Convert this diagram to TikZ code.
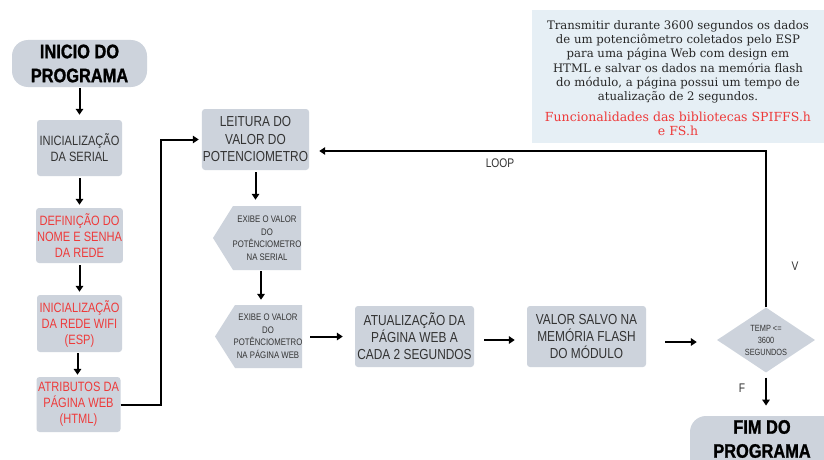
\documentclass[tikz,border=0pt]{standalone}
\usepackage{fontspec}
\setmainfont{Liberation Sans}
\newfontfamily\cond[FakeStretch=0.82]{Liberation Sans}
\newfontfamily\heavy[FakeStretch=0.84,FakeBold=1.2]{Liberation Sans Bold}
\newfontfamily\slab{DejaVu Serif}
\usetikzlibrary{arrows.meta,shapes.geometric}
\definecolor{boxfill}{HTML}{CDD3DC}
\definecolor{txtgray}{HTML}{333333}
\definecolor{redt}{HTML}{EE3A3A}
\definecolor{panel}{HTML}{E6EFF5}
\tikzset{
  procbox/.style={fill=boxfill, rounded corners=3pt, align=center, inner sep=1pt,
    font=\cond\fontsize{13.5}{16}\selectfont, text=txtgray},
  redbox/.style={procbox, text=redt},
  termbox/.style={fill=boxfill, rounded corners=16pt, align=center,
    font=\heavy\fontsize{19.5}{24}\selectfont, text=black},
  arr/.style={draw=black, line width=2pt, -{Triangle[length=6pt,width=7.5pt]}},
  plainline/.style={draw=black, line width=2pt},
  lbl/.style={font=\cond\fontsize{12.5}{14}\selectfont, text=txtgray},
  smalltxt/.style={align=center, font=\cond\fontsize{9.5}{12.5}\selectfont, text=txtgray, inner sep=0pt}
}
\begin{document}
\begin{tikzpicture}[x=1pt,y=-1pt]
\useasboundingbox (0,0) rectangle (824,460);
\clip (0,0) rectangle (824,460);
\fill[white] (0,0) rectangle (824,460);

% description panel
\fill[panel] (532,10) rectangle (824,143);
\node[align=center, font=\slab\fontsize{11.7}{14.3}\selectfont, text=black!85] (desc) at (678,62)
 {Transmitir durante 3600 segundos os dados\\de um potenciômetro coletados pelo ESP\\para uma página Web com design em\\HTML e salvar os dados na memória flash\\do módulo, a página possui um tempo de\\atualização de 2 segundos.};
\node[align=center, font=\slab\fontsize{12.5}{14}\selectfont, text=redt] (libs) at (678,124)
 {Funcionalidades das bibliotecas SPIFFS.h\\e FS.h};

% left column
\node[termbox, minimum width=135pt, minimum height=47pt] (start) at (79.5,63.5) {INICIO DO\\PROGRAMA};
\node[procbox, minimum width=85pt, minimum height=56pt] (ser) at (79.5,148) {INICIALIZAÇÃO\\DA SERIAL};
\node[redbox, minimum width=85pt, minimum height=55pt] (rede) at (79.5,235.5) {DEFINIÇÃO DO\\NOME E SENHA\\DA REDE};
\node[redbox, minimum width=85pt, minimum height=57pt] (wifi) at (79.5,323.5) {INICIALIZAÇÃO\\DA REDE WIFI\\(ESP)};
\node[redbox, minimum width=84pt, minimum height=55pt] (attr) at (78.5,404.5) {ATRIBUTOS DA\\PÁGINA WEB\\(HTML)};

% middle column
\node[procbox, minimum width=105pt, minimum height=61pt, font=\cond\fontsize{14.5}{17.5}\selectfont] (leit) at (255.5,139.5) {LEITURA DO\\VALOR DO\\POTENCIOMETRO};

\fill[boxfill] (213,238) -- (233,206) -- (301,206) -- (301,270) -- (233,270) -- cycle;
\node[smalltxt, minimum width=88pt, minimum height=64pt] (ex1) at (257,238) {};
\node[smalltxt] at (267,238) {EXIBE O VALOR\\DO\\POTÊNCIOMETRO\\NA SERIAL};

\fill[boxfill] (215,336.5) -- (235,305) -- (302,305) -- (302,368) -- (235,368) -- cycle;
\node[smalltxt, minimum width=87pt, minimum height=63pt] (ex2) at (258.5,336.5) {};
\node[smalltxt] at (268,336) {EXIBE O VALOR\\DO\\POTÊNCIOMETRO\\NA PÁGINA WEB};

\node[procbox, minimum width=119pt, minimum height=61pt, font=\cond\fontsize{14.5}{17}\selectfont] (atu) at (414.5,336.5) {ATUALIZAÇÃO DA\\PÁGINA WEB A\\CADA 2 SEGUNDOS};
\node[procbox, minimum width=119pt, minimum height=61pt, font=\cond\fontsize{14.5}{17}\selectfont] (val) at (586.5,336.5) {VALOR SALVO NA\\MEMÓRIA FLASH\\DO MÓDULO};

\node[diamond, fill=boxfill, minimum width=98pt, minimum height=65pt, inner sep=0pt, aspect=1.5,
  align=center, font=\cond\fontsize{9}{12}\selectfont, text=txtgray] (dec) at (766,340) {TEMP <=\\3600\\SEGUNDOS};

\fill[boxfill, rounded corners=16pt] (690,416) rectangle (845,480);
\node[align=center, font=\heavy\fontsize{19.5}{24}\selectfont] (fim) at (762,439) {FIM DO\\PROGRAMA};

% connectors
\draw[arr, shorten <=1pt, shorten >=5pt] (start) -- (ser);
\draw[arr, shorten <=2pt, shorten >=3pt] (ser) -- (rede);
\draw[arr, shorten <=2pt, shorten >=3pt] (rede) -- (wifi);
\draw[arr, shorten <=1pt, shorten >=2pt] ([xshift=-2pt]wifi.south) -- ([xshift=-2pt]wifi.south |- attr.north);
\draw[arr, shorten >=3pt] (attr.east) -- ++(40,0) |- (leit.west);
\draw[arr, shorten <=2pt, shorten >=6pt] (leit.south) -- (leit.south |- ex1.north);
\draw[arr, shorten <=1pt, shorten >=5pt] ([xshift=4pt]ex1.south) -- ([xshift=4pt]ex1.south |- ex2.north);
\draw[arr, shorten <=8pt, shorten >=12pt] (ex2.east) -- (ex2.east -| atu.west);
\draw[arr, shorten <=10pt, shorten >=12pt] ([yshift=-3.5pt]atu.east) -- ([yshift=-3.5pt]atu.east -| val.west);
\draw[arr, shorten <=19pt, shorten >=20pt] ([yshift=-5.5pt]val.east) -- ([yshift=-5.5pt]val.east -| dec.west);
\draw[plainline] (dec.north) -- (766,151) coordinate (loopc);
\draw[arr, shorten >=10pt] ([xshift=1pt]loopc) -- (loopc -| leit.east);
\draw[arr, shorten <=5pt, shorten >=11pt] (dec.south) -- (fim.north -| dec.south);

% labels
\node[lbl] (loop) at (500,163) {LOOP};
\node[lbl] (v) at (795,266) {V};
\node[lbl] (f) at (742,388) {F};
\end{tikzpicture}
\end{document}
